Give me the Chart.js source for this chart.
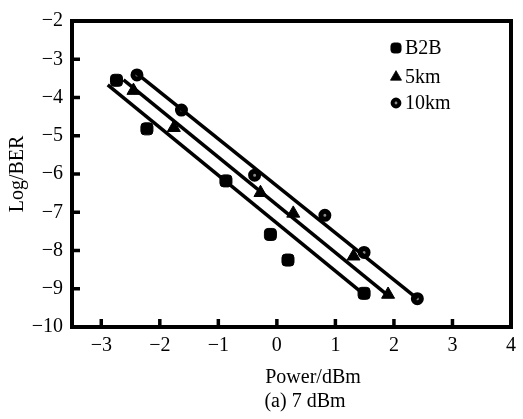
<!DOCTYPE html>
<html>
<head>
<meta charset="utf-8">
<script src="https://cdn.jsdelivr.net/npm/chart.js@4.4.0/dist/chart.umd.min.js"></script>
<style>
html, body { margin: 0; padding: 0; background: #fff; }
#wrap { width: 523px; height: 419px; }
</style>
</head>
<body>
<div id="wrap"><canvas id="berChart"></canvas></div>
<script>
const seriesNames = ["B2B", "5km", "10km"];
const b2bPower = [-2.74, -2.22, -0.87, -0.11, 0.19, 1.49];
const b2bLogBer = [-3.55, -4.82, -6.18, -7.58, -8.25, -9.12];
const km5Power = [-2.45, -1.76, -0.28, 0.28, 1.31, 1.90];
const km5LogBer = [-3.82, -4.79, -6.49, -7.03, -8.15, -9.15];
const km10Power = [-2.39, -1.63, -0.38, 0.82, 1.49, 2.40];
const km10LogBer = [-3.41, -4.33, -6.03, -7.08, -8.05, -9.26];

// fitted lines (start / end) for each series
const fitPower = [[-2.89, 1.41], [-2.62, 1.86], [-2.40, 2.40]];
const fitLogBer = [[-3.67, -9.05], [-3.54, -9.13], [-3.36, -9.26]];

const xTitle = "Power/dBm";
const yTitle = "Log/BER";
const caption = "(a) 7 dBm";

function toPoints(xs, ys) {
    return xs.map((x, i) => ({ x: x, y: ys[i] }));
}

function minusLabel(v) {
    return v < 0 ? "\u2212" + Math.abs(v) : String(v);
}

Chart.defaults.font.family = '"Liberation Serif", "Times New Roman", serif';
Chart.defaults.color = "#000";

const markerStyles = [
    { pointStyle: "rectRounded", radius: 7, bg: "#000", border: "#000", bw: 1 },
    { pointStyle: "triangle", radius: 7.5, bg: "#000", border: "#000", bw: 1 },
    { pointStyle: "circle", radius: 4, bg: "#888", border: "#000", bw: 5 },
];

const pointSets = [
    toPoints(b2bPower, b2bLogBer),
    toPoints(km5Power, km5LogBer),
    toPoints(km10Power, km10LogBer),
];

const datasets = [];
fitPower.forEach((xs, i) => {
    datasets.push({
        type: "line",
        label: seriesNames[i] + " fit",
        data: toPoints(xs, fitLogBer[i]),
        borderColor: "#000",
        borderWidth: 3.5,
        pointRadius: 0,
        fill: false,
    });
});
pointSets.forEach((pts, i) => {
    const m = markerStyles[i];
    datasets.push({
        type: "scatter",
        label: seriesNames[i],
        data: pts,
        pointStyle: m.pointStyle,
        pointRadius: m.radius,
        backgroundColor: m.bg,
        borderColor: m.border,
        borderWidth: m.bw,
    });
});

const framePlugin = {
    id: "frame",
    afterDatasetsDraw(chart) {
        const { ctx, chartArea: a, scales } = chart;
        ctx.save();
        ctx.strokeStyle = "#000";
        ctx.lineWidth = 3.5;
        scales.x.ticks.forEach((t) => {
            const px = scales.x.getPixelForValue(t.value);
            if (px <= a.left + 2 || px >= a.right - 2) return;
            ctx.beginPath();
            ctx.moveTo(px, a.bottom);
            ctx.lineTo(px, a.bottom - 8);
            ctx.stroke();
        });
        scales.y.ticks.forEach((t) => {
            const py = scales.y.getPixelForValue(t.value);
            if (py <= a.top + 2 || py >= a.bottom - 2) return;
            ctx.beginPath();
            ctx.moveTo(a.left, py);
            ctx.lineTo(a.left + 8, py);
            ctx.stroke();
        });
        ctx.lineWidth = 4;
        ctx.strokeRect(a.left, a.top, a.right - a.left, a.bottom - a.top);
        ctx.restore();
    },
};

const legendPlugin = {
    id: "innerLegend",
    afterDraw(chart) {
        const { ctx } = chart;
        const rows = [48, 77, 103];
        ctx.save();
        ctx.font = '20px "Liberation Serif", serif';
        ctx.textBaseline = "middle";
        seriesNames.forEach((name, i) => {
            const m = markerStyles[i];
            ctx.fillStyle = m.bg;
            ctx.strokeStyle = m.border;
            ctx.lineWidth = m.bw * 0.8;
            Chart.helpers.drawPoint(ctx, {
                pointStyle: m.pointStyle,
                radius: m.radius * 0.85,
                rotation: 0,
                borderWidth: m.bw * 0.8,
            }, 396, rows[i]);
            ctx.fillStyle = "#000";
            ctx.fillText(name, 405, rows[i] + 1);
        });
        ctx.restore();
    },
};

const captionPlugin = {
    id: "captions",
    afterDraw(chart) {
        const { ctx } = chart;
        ctx.save();
        ctx.font = '20px "Liberation Serif", serif';
        ctx.fillStyle = "#000";
        ctx.textAlign = "center";
        ctx.textBaseline = "middle";
        ctx.fillText(xTitle, 313, 378);
        ctx.fillText(caption, 305, 402);
        ctx.restore();
    },
};

const berChart = new Chart(document.getElementById("berChart"), {
    data: { datasets: datasets },
    options: {
        responsive: true,
        maintainAspectRatio: false,
        animation: false,
        layout: { padding: { top: 15, right: 6, bottom: 0, left: 0 } },
        plugins: {
            legend: { display: false },
            tooltip: { enabled: false },
        },
        scales: {
            x: {
                type: "linear",
                min: -3.5,
                max: 4,
                grid: { display: false, drawTicks: false },
                border: { display: false },
                ticks: {
                    stepSize: 1,
                    includeBounds: false,
                    padding: 7,
                    font: { size: 20 },
                    callback: minusLabel,
                },
                afterFit(scale) { scale.height = 92; },
            },
            y: {
                type: "linear",
                min: -10,
                max: -2,
                grid: { display: false, drawTicks: false },
                border: { display: false },
                title: {
                    display: true,
                    text: yTitle,
                    font: { size: 20 },
                    padding: { top: 6, bottom: 0 },
                },
                ticks: {
                    stepSize: 1,
                    padding: 9,
                    font: { size: 20 },
                    callback: minusLabel,
                },
                afterFit(scale) { scale.width = 72; },
            },
        },
    },
    plugins: [framePlugin, legendPlugin, captionPlugin],
});
</script>
</body>
</html>
